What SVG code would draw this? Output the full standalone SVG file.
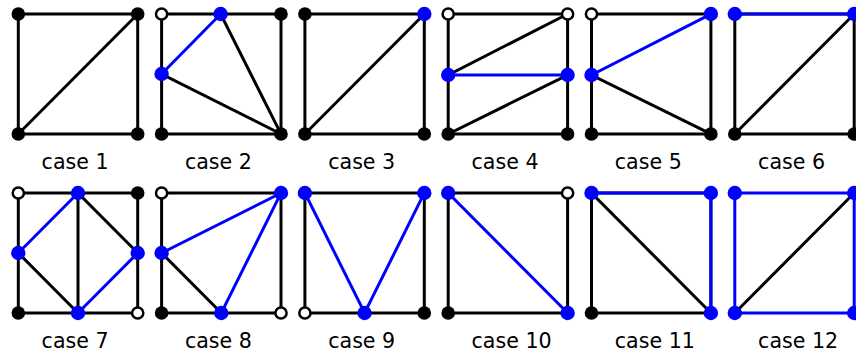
<svg xmlns="http://www.w3.org/2000/svg" width="856" height="352" viewBox="0 0 856 352">
<style>
.k{stroke:#000;stroke-width:3;fill:none;stroke-linecap:square}
.b{stroke:#00f;stroke-width:3;fill:none;stroke-linecap:square}
.dk{fill:#000}
.db{fill:#00f}
.do{fill:#fff;stroke:#000;stroke-width:2.5}
.lbl{font-family:"DejaVu Sans",Verdana,sans-serif;font-size:20.6px;fill:#000}
</style>
<rect width="856" height="352" fill="#fff"/>
<defs>
<path id="sq" d="M0,0H119.4V120H0Z"/>
</defs>
<g id="case1" transform="translate(18.3,14)">
<g class="connectors"><use href="#sq" class="k"/><path class="k" d="M0,120L119.4,0"/></g>
<circle class="dk" cx="0" cy="0" r="6.8"/><circle class="dk" cx="119.4" cy="0" r="6.8"/><circle class="dk" cx="0" cy="120" r="6.8"/><circle class="dk" cx="119.4" cy="120" r="6.8"/>
<text class="lbl" x="23.3" y="155">case 1</text>
</g>
<g id="case2" transform="translate(161.6,14)">
<g class="connectors"><use href="#sq" class="k"/><path class="k" d="M0,60L119.4,120M59,0L119.4,120"/><path class="b" d="M0,60L59,0"/></g>
<circle class="do" cx="0" cy="0" r="5.6"/><circle class="dk" cx="119.4" cy="0" r="6.8"/><circle class="dk" cx="0" cy="120" r="6.8"/><circle class="dk" cx="119.4" cy="120" r="6.8"/>
<circle class="db" cx="59" cy="0" r="7.2"/><circle class="db" cx="0" cy="60" r="7.2"/>
<text class="lbl" x="23.3" y="155">case 2</text>
</g>
<g id="case3" transform="translate(304.9,14)">
<g class="connectors"><use href="#sq" class="k"/><path class="k" d="M0,120L119.4,0"/></g>
<circle class="dk" cx="0" cy="0" r="6.8"/><circle class="db" cx="119.4" cy="0" r="7.2"/><circle class="dk" cx="0" cy="120" r="6.8"/><circle class="dk" cx="119.4" cy="120" r="6.8"/>
<text class="lbl" x="23.3" y="155">case 3</text>
</g>
<g id="case4" transform="translate(448.2,14)">
<g class="connectors"><use href="#sq" class="k"/><path class="k" d="M0,61L119.4,0M0,120L119.4,61"/><path class="b" d="M0,61H119.4"/></g>
<circle class="do" cx="0" cy="0" r="5.6"/><circle class="do" cx="119.4" cy="0" r="5.6"/><circle class="dk" cx="0" cy="120" r="6.8"/><circle class="dk" cx="119.4" cy="120" r="6.8"/>
<circle class="db" cx="0" cy="61" r="7.2"/><circle class="db" cx="119.4" cy="61" r="7.2"/>
<text class="lbl" x="23.3" y="155">case 4</text>
</g>
<g id="case5" transform="translate(591.5,14)">
<g class="connectors"><use href="#sq" class="k"/><path class="k" d="M0,61L119.4,120"/><path class="b" d="M0,61L119.4,0"/></g>
<circle class="do" cx="0" cy="0" r="5.6"/><circle class="db" cx="119.4" cy="0" r="7.2"/><circle class="dk" cx="0" cy="120" r="6.8"/><circle class="dk" cx="119.4" cy="120" r="6.8"/>
<circle class="db" cx="0" cy="61" r="7.2"/>
<text class="lbl" x="23.3" y="155">case 5</text>
</g>
<g id="case6" transform="translate(734.8,14)">
<g class="connectors"><use href="#sq" class="k"/><path class="k" d="M0,120L119.4,0"/><path class="b" d="M0,0H119.4"/></g>
<circle class="db" cx="0" cy="0" r="7.2"/><circle class="db" cx="119.4" cy="0" r="7.2"/><circle class="dk" cx="0" cy="120" r="6.8"/><circle class="dk" cx="119.4" cy="120" r="6.8"/>
<text class="lbl" x="23.3" y="155">case 6</text>
</g>
<g id="case7" transform="translate(18.3,193)">
<g class="connectors"><use href="#sq" class="k"/><path class="k" d="M0,60L59.7,120M59.7,0V120M59.7,0L119.4,60"/><path class="b" d="M0,60L59.7,0M59.7,120L119.4,60"/></g>
<circle class="do" cx="0" cy="0" r="5.6"/><circle class="dk" cx="119.4" cy="0" r="6.8"/><circle class="dk" cx="0" cy="120" r="6.8"/><circle class="do" cx="119.4" cy="120" r="5.6"/>
<circle class="db" cx="59.7" cy="0" r="7.2"/><circle class="db" cx="0" cy="60" r="7.2"/><circle class="db" cx="119.4" cy="60" r="7.2"/><circle class="db" cx="59.7" cy="120" r="7.2"/>
<text class="lbl" x="23.3" y="155">case 7</text>
</g>
<g id="case8" transform="translate(161.6,193)">
<g class="connectors"><use href="#sq" class="k"/><path class="k" d="M0,60L59.7,120"/><path class="b" d="M0,60L119.4,0M59.7,120L119.4,0"/></g>
<circle class="do" cx="0" cy="0" r="5.6"/><circle class="db" cx="119.4" cy="0" r="7.2"/><circle class="dk" cx="0" cy="120" r="6.8"/><circle class="do" cx="119.4" cy="120" r="5.6"/>
<circle class="db" cx="0" cy="60" r="7.2"/><circle class="db" cx="59.7" cy="120" r="7.2"/>
<text class="lbl" x="23.3" y="155">case 8</text>
</g>
<g id="case9" transform="translate(304.9,193)">
<g class="connectors"><use href="#sq" class="k"/><path class="b" d="M0,0L59.7,120L119.4,0"/></g>
<circle class="db" cx="0" cy="0" r="7.2"/><circle class="db" cx="119.4" cy="0" r="7.2"/><circle class="do" cx="0" cy="120" r="5.6"/><circle class="dk" cx="119.4" cy="120" r="6.8"/>
<circle class="db" cx="59.7" cy="120" r="7.2"/>
<text class="lbl" x="23.3" y="155">case 9</text>
</g>
<g id="case10" transform="translate(448.2,193)">
<g class="connectors"><use href="#sq" class="k"/><path class="b" d="M0,0L119.4,120"/></g>
<circle class="db" cx="0" cy="0" r="7.2"/><circle class="do" cx="119.4" cy="0" r="5.6"/><circle class="dk" cx="0" cy="120" r="6.8"/><circle class="db" cx="119.4" cy="120" r="7.2"/>
<text class="lbl" x="23.3" y="155">case 10</text>
</g>
<g id="case11" transform="translate(591.5,193)">
<g class="connectors"><use href="#sq" class="k"/><path class="k" d="M0,0L119.4,120"/><path class="b" d="M0,0H119.4V120"/></g>
<circle class="db" cx="0" cy="0" r="7.2"/><circle class="db" cx="119.4" cy="0" r="7.2"/><circle class="dk" cx="0" cy="120" r="6.8"/><circle class="db" cx="119.4" cy="120" r="7.2"/>
<text class="lbl" x="23.3" y="155">case 11</text>
</g>
<g id="case12" transform="translate(734.8,193)">
<g class="connectors"><use href="#sq" class="b"/><path class="k" d="M0,120L119.4,0"/></g>
<circle class="db" cx="0" cy="0" r="7.2"/><circle class="db" cx="119.4" cy="0" r="7.2"/><circle class="db" cx="0" cy="120" r="7.2"/><circle class="db" cx="119.4" cy="120" r="7.2"/>
<text class="lbl" x="23.3" y="155">case 12</text>
</g>
</svg>
